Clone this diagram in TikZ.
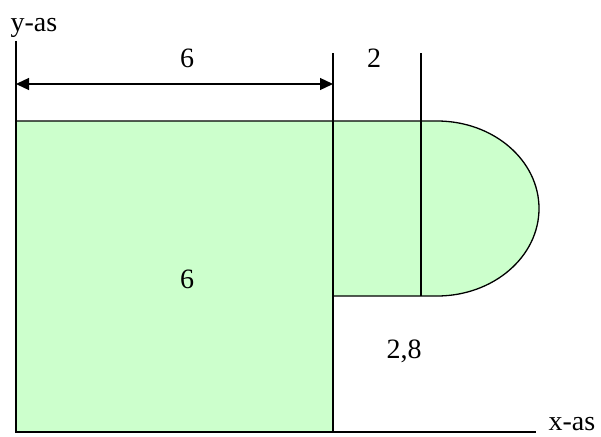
\documentclass[tikz,border=0pt]{standalone}
\usepackage{fontspec}
\setmainfont{Liberation Serif}
\usetikzlibrary{arrows.meta}
\definecolor{vlak}{RGB}{204,255,204}
\tikzset{lbl/.style={inner sep=0pt,font=\fontsize{28}{32}\selectfont}}

\begin{document}
\begin{tikzpicture}[x=1pt,y=-1pt,line width=1.3pt,>={Triangle[length=13pt,width=12pt]}]
\useasboundingbox (0,0) rectangle (601,436);
% figuur
\fill[vlak] (16,121) rectangle (333,432);
\fill[vlak] (333,121)--(437,121) arc[start angle=-90,end angle=90,x radius=102,y radius=87.5]--(333,296)--cycle;
\draw (16,121)--(437,121) arc[start angle=-90,end angle=90,x radius=102,y radius=87.5]--(333,296);
\coordinate (o) at (16,432);
\coordinate (ytop) at (16,41);
\coordinate (xend) at (536,432);
\coordinate (m1) at (333,53);
\coordinate (m2) at (421,53);
\draw (m1)--(333,432);
\draw (m2)--(421,296);
\draw (ytop)--(o)--(xend);
\coordinate (pa) at (16,84);
\coordinate (pb) at (333,84);
\draw[<->] (pa)--(pb);
\node[lbl,anchor=base west] (yas) at (10,32) {y-as};
\node[lbl,anchor=base west] (xas) at (548,430) {x-as};
\node[lbl] (b1) at (187,58) {6};
\node[lbl] (b2) at (374,58) {2};
\node[lbl] (h1) at (187,279) {6};
\node[lbl] (h2) at (404,351) {2,8};
\end{tikzpicture}
\end{document}
